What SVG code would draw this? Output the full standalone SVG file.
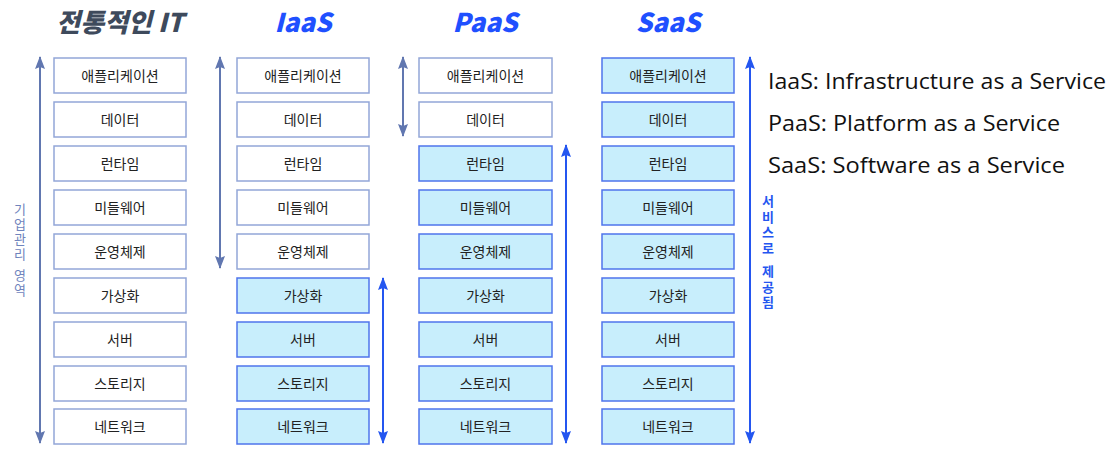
<svg xmlns="http://www.w3.org/2000/svg" width="1114" height="454" viewBox="0 0 1114 454">
<style>
.bw{fill:#ffffff;stroke:#93a6d8;stroke-width:1.5}
.bb{fill:#c8eefc;stroke:#4f74ec;stroke-width:1.5}
.lbl{font-family:"Noto Sans CJK KR","Noto Sans",sans-serif;font-size:14px;fill:#222;text-anchor:middle}
.hd{font-family:"Noto Sans CJK KR","Noto Sans",sans-serif;font-size:26px;font-weight:900;font-style:italic;text-anchor:middle}
.eng{font-family:"Open Sans","Noto Sans",sans-serif;font-size:21px;fill:#111}
.ag{stroke:#6177b0;stroke-width:2;fill:none}
.ab{stroke:#2456f0;stroke-width:2;fill:none}
.vt{font-family:"Noto Sans CJK KR",sans-serif;font-size:13px;text-anchor:middle}
</style>
<defs>
<marker id="mg" viewBox="0 0 13 10" refX="12" refY="5" markerWidth="13" markerHeight="10" markerUnits="userSpaceOnUse" orient="auto-start-reverse"><path d="M13 5 L0 0 L2 5 L0 10 Z" fill="#6177b0"/></marker>
<marker id="mb" viewBox="0 0 13 10" refX="12" refY="5" markerWidth="13" markerHeight="10" markerUnits="userSpaceOnUse" orient="auto-start-reverse"><path d="M13 5 L0 0 L2 5 L0 10 Z" fill="#2456f0"/></marker>
</defs>
<rect width="1114" height="454" fill="#ffffff"/>
<g id="headers">
<text class="hd" x="120" y="32" fill="#3e4a5c">전통적인 IT</text>
<text class="hd" x="303" y="32" fill="#1f50ff">IaaS</text>
<text class="hd" x="485" y="32" fill="#1f50ff">PaaS</text>
<text class="hd" x="668" y="32" fill="#1f50ff">SaaS</text>
</g>
<g id="col-it">
<rect class="bw" x="54" y="58" width="132" height="35"/><text class="lbl" x="120" y="80.5">애플리케이션</text>
<rect class="bw" x="54" y="102" width="132" height="35"/><text class="lbl" x="120" y="124.5">데이터</text>
<rect class="bw" x="54" y="146" width="132" height="35"/><text class="lbl" x="120" y="168.5">런타임</text>
<rect class="bw" x="54" y="190" width="132" height="35"/><text class="lbl" x="120" y="212.5">미들웨어</text>
<rect class="bw" x="54" y="234" width="132" height="35"/><text class="lbl" x="120" y="256.5">운영체제</text>
<rect class="bw" x="54" y="278" width="132" height="35"/><text class="lbl" x="120" y="300.5">가상화</text>
<rect class="bw" x="54" y="322" width="132" height="35"/><text class="lbl" x="120" y="344.5">서버</text>
<rect class="bw" x="54" y="366" width="132" height="35"/><text class="lbl" x="120" y="388.5">스토리지</text>
<rect class="bw" x="54" y="409" width="132" height="35"/><text class="lbl" x="120" y="431.5">네트워크</text>
</g>
<g id="col-iaas">
<rect class="bw" x="237" y="58" width="132" height="35"/><text class="lbl" x="303" y="80.5">애플리케이션</text>
<rect class="bw" x="237" y="102" width="132" height="35"/><text class="lbl" x="303" y="124.5">데이터</text>
<rect class="bw" x="237" y="146" width="132" height="35"/><text class="lbl" x="303" y="168.5">런타임</text>
<rect class="bw" x="237" y="190" width="132" height="35"/><text class="lbl" x="303" y="212.5">미들웨어</text>
<rect class="bw" x="237" y="234" width="132" height="35"/><text class="lbl" x="303" y="256.5">운영체제</text>
<rect class="bb" x="237" y="278" width="132" height="35"/><text class="lbl" x="303" y="300.5">가상화</text>
<rect class="bb" x="237" y="322" width="132" height="35"/><text class="lbl" x="303" y="344.5">서버</text>
<rect class="bb" x="237" y="366" width="132" height="35"/><text class="lbl" x="303" y="388.5">스토리지</text>
<rect class="bb" x="237" y="409" width="132" height="35"/><text class="lbl" x="303" y="431.5">네트워크</text>
</g>
<g id="col-paas">
<rect class="bw" x="419" y="58" width="133" height="35"/><text class="lbl" x="485.5" y="80.5">애플리케이션</text>
<rect class="bw" x="419" y="102" width="133" height="35"/><text class="lbl" x="485.5" y="124.5">데이터</text>
<rect class="bb" x="419" y="146" width="133" height="35"/><text class="lbl" x="485.5" y="168.5">런타임</text>
<rect class="bb" x="419" y="190" width="133" height="35"/><text class="lbl" x="485.5" y="212.5">미들웨어</text>
<rect class="bb" x="419" y="234" width="133" height="35"/><text class="lbl" x="485.5" y="256.5">운영체제</text>
<rect class="bb" x="419" y="278" width="133" height="35"/><text class="lbl" x="485.5" y="300.5">가상화</text>
<rect class="bb" x="419" y="322" width="133" height="35"/><text class="lbl" x="485.5" y="344.5">서버</text>
<rect class="bb" x="419" y="366" width="133" height="35"/><text class="lbl" x="485.5" y="388.5">스토리지</text>
<rect class="bb" x="419" y="409" width="133" height="35"/><text class="lbl" x="485.5" y="431.5">네트워크</text>
</g>
<g id="col-saas">
<rect class="bb" x="602" y="58" width="132" height="35"/><text class="lbl" x="668" y="80.5">애플리케이션</text>
<rect class="bb" x="602" y="102" width="132" height="35"/><text class="lbl" x="668" y="124.5">데이터</text>
<rect class="bb" x="602" y="146" width="132" height="35"/><text class="lbl" x="668" y="168.5">런타임</text>
<rect class="bb" x="602" y="190" width="132" height="35"/><text class="lbl" x="668" y="212.5">미들웨어</text>
<rect class="bb" x="602" y="234" width="132" height="35"/><text class="lbl" x="668" y="256.5">운영체제</text>
<rect class="bb" x="602" y="278" width="132" height="35"/><text class="lbl" x="668" y="300.5">가상화</text>
<rect class="bb" x="602" y="322" width="132" height="35"/><text class="lbl" x="668" y="344.5">서버</text>
<rect class="bb" x="602" y="366" width="132" height="35"/><text class="lbl" x="668" y="388.5">스토리지</text>
<rect class="bb" x="602" y="409" width="132" height="35"/><text class="lbl" x="668" y="431.5">네트워크</text>
</g>
<g id="connectors">
<line class="ag" x1="40" y1="57" x2="40" y2="443" marker-start="url(#mg)" marker-end="url(#mg)"/>
<line class="ag" x1="220" y1="57" x2="220" y2="268" marker-start="url(#mg)" marker-end="url(#mg)"/>
<line class="ab" x1="383" y1="278" x2="383" y2="443" marker-start="url(#mb)" marker-end="url(#mb)"/>
<line class="ag" x1="403" y1="57" x2="403" y2="136" marker-start="url(#mg)" marker-end="url(#mg)"/>
<line class="ab" x1="566" y1="145" x2="566" y2="443" marker-start="url(#mb)" marker-end="url(#mb)"/>
<line class="ab" x1="750" y1="57" x2="750" y2="443" marker-start="url(#mb)" marker-end="url(#mb)"/>
</g>
<g id="side-labels">
<text class="vt" fill="#6f84bd"><tspan x="20" y="214">기</tspan><tspan x="20" dy="15">업</tspan><tspan x="20" dy="15">관</tspan><tspan x="20" dy="15">리</tspan><tspan x="20" dy="21">영</tspan><tspan x="20" dy="15">역</tspan></text>
<text class="vt" fill="#2456f0" font-weight="bold"><tspan x="768" y="206">서</tspan><tspan x="768" dy="15.5">비</tspan><tspan x="768" dy="15.5">스</tspan><tspan x="768" dy="15.5">로</tspan><tspan x="768" dy="23.5">제</tspan><tspan x="768" dy="15.5">공</tspan><tspan x="768" dy="15.5">됨</tspan></text>
</g>
<g id="legend">
<text class="eng" x="768" y="89" textLength="338" lengthAdjust="spacingAndGlyphs">IaaS: Infrastructure as a Service</text>
<text class="eng" x="768" y="131" textLength="292" lengthAdjust="spacingAndGlyphs">PaaS: Platform as a Service</text>
<text class="eng" x="768" y="173" textLength="297" lengthAdjust="spacingAndGlyphs">SaaS: Software as a Service</text>
</g>
</svg>
